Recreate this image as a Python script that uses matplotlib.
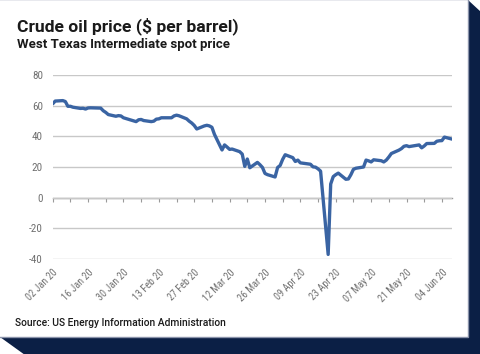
import matplotlib
matplotlib.use("Agg")
import matplotlib.pyplot as plt
from matplotlib import font_manager
from matplotlib.patches import Polygon, Rectangle
import pandas as pd

# WTI spot price, trading days Jan 2 - Jun 8 2020
jan_days = [2, 3, 6, 7, 8, 9, 10, 13, 14, 15, 16, 17, 21, 22, 23, 24, 27, 28, 29, 30, 31]
jan_vals = [61.2, 63.0, 63.3, 62.7, 59.6, 59.6, 59.0, 58.2, 58.3, 57.8, 58.5, 58.6,
            58.4, 56.7, 55.6, 54.2, 53.1, 53.5, 53.3, 52.1, 51.6]
feb_days = [3, 4, 5, 6, 7, 10, 11, 12, 13, 14, 18, 19, 20, 21, 24, 25, 26, 27, 28]
feb_vals = [50.1, 49.6, 50.8, 51.0, 50.3, 49.6, 49.9, 51.2, 51.4, 52.1, 52.1, 53.3,
            53.8, 53.4, 51.4, 49.9, 48.7, 47.1, 44.8]
mar_days = [2, 3, 4, 5, 6, 9, 10, 11, 12, 13, 16, 17, 18, 19, 20, 23, 24, 25, 26, 27, 30, 31]
mar_vals = [46.8, 47.2, 46.8, 45.9, 41.3, 31.1, 34.4, 33.0, 31.5, 31.7, 30.0, 28.4,
            20.4, 25.2, 19.5, 23.0, 21.5, 19.7, 15.8, 15.0, 13.5, 19.7]
apr_days = [1, 2, 3, 6, 7, 8, 9, 13, 14, 15, 16, 17, 20, 21, 22, 23, 24, 27, 28, 29, 30]
apr_vals = [21.0, 25.0, 28.0, 26.1, 23.6, 24.5, 22.7, 21.8, 20.1, 19.9, 18.8, 17.3,
            -37.0, 8.9, 13.7, 15.0, 16.0, 12.0, 12.2, 15.0, 18.5]
may_days = [1, 4, 5, 6, 7, 8, 11, 12, 13, 14, 15, 18, 19, 20, 21, 22, 26, 27, 28, 29]
may_vals = [19.2, 20.0, 24.5, 24.0, 23.3, 24.7, 24.1, 23.3, 24.5, 26.5, 28.8, 31.0,
            32.0, 33.5, 33.9, 33.3, 34.4, 32.5, 33.7, 35.3]
jun_days = [1, 2, 3, 4, 5, 8]
jun_vals = [35.4, 36.8, 37.1, 37.2, 39.5, 38.2]

tick_dates = ["2020-01-02", "2020-01-16", "2020-01-30", "2020-02-13", "2020-02-27",
              "2020-03-12", "2020-03-26", "2020-04-09", "2020-04-23", "2020-05-07",
              "2020-05-21", "2020-06-04"]
tick_labels = ["02 Jan 20", "16 Jan 20", "30 Jan 20", "13 Feb 20", "27 Feb 20",
               "12 Mar 20", "26 Mar 20", "09 Apr 20", "23 Apr 20", "07 May 20",
               "21 May 20", "04 Jun 20"]
y_ticks = [-40, -20, 0, 20, 40, 60, 80]

NAVY = "#0b1f45"
LINE = "#3a64a3"
GREY_TXT = "#707070"

plt.rcParams["axes.unicode_minus"] = False

names = {f.name for f in font_manager.fontManager.ttflist}
NARROW = next((n for n in ["Liberation Sans Narrow", "Roboto Condensed"] if n in names),
              "DejaVu Sans")
HEAD = "Roboto" if "Roboto" in names else "DejaVu Sans"

dates, prices = [], []
for month, days, vals in [(1, jan_days, jan_vals), (2, feb_days, feb_vals),
                          (3, mar_days, mar_vals), (4, apr_days, apr_vals),
                          (5, may_days, may_vals), (6, jun_days, jun_vals)]:
    for d, v in zip(days, vals):
        dates.append(pd.Timestamp(2020, month, d))
        prices.append(v)

W, H = 480, 354
fig = plt.figure(figsize=(W / 100, H / 100), dpi=100, facecolor="white")


def px(x, y):
    return (x / W, 1 - y / H)


# card shadow and card
fig.patches.append(Polygon([px(468, 0), px(481, 12), px(481, 355), px(25, 355), px(0, 337)],
                           closed=True, transform=fig.transFigure, facecolor=NAVY,
                           edgecolor="none", zorder=0))
fig.patches.append(Rectangle(px(-2, 337), 470 / W, 338 / H, transform=fig.transFigure,
                             facecolor="white", edgecolor="#8a93aa", linewidth=1, zorder=1))

ax = fig.add_axes([52.7 / W, 1 - 259 / H, (452 - 52.7) / W, (259 - 75) / H])
ax.set_zorder(3)
ax.set_facecolor("none")
ax.plot(dates, prices, color=LINE, linewidth=2.4, solid_joinstyle="round",
        solid_capstyle="round", zorder=3)

ax.set_xlim(dates[0], dates[-1])
ax.set_ylim(-40, 80)
ax.set_yticks(y_ticks)
ax.grid(axis="y", color="#c8c8c8", linewidth=1.0)
ax.set_axisbelow(True)
for s in ax.spines.values():
    s.set_visible(False)

ax.set_xticks(pd.to_datetime(tick_dates))
ax.set_xticklabels(tick_labels, rotation=45, ha="right", va="top", rotation_mode="anchor")
ax.tick_params(axis="x", length=0, pad=6, labelsize=7.3, labelcolor=GREY_TXT)
ax.tick_params(axis="y", length=0, pad=7, labelsize=8, labelcolor=GREY_TXT)
for lab in ax.get_xticklabels() + ax.get_yticklabels():
    lab.set_family(NARROW)
    lab.set_stretch("condensed")

# horizontal axis crossing at zero, weekly tick marks
zero = ax.secondary_xaxis(0, transform=ax.transData)
zero.set_xticks(pd.date_range(tick_dates[0], dates[-1], freq="7D"))
zero.tick_params(axis="x", direction="out", length=3, width=0.8, color="#9a9a9a",
                 labelbottom=False)
zero.spines["bottom"].set_color("#9a9a9a")
zero.spines["bottom"].set_linewidth(1.0)

fig.text(17 / W, 1 - 31 / H, "Crude oil price ($ per barrel)", family=HEAD,
         weight="bold", fontsize=12.6, color="#1a1a1a", va="baseline")
fig.text(17 / W, 1 - 48 / H, "West Texas Intermediate spot price", family=HEAD,
         weight="bold", fontsize=9.5, color="#1a1a1a", va="baseline")
fig.text(15 / W, 1 - 326 / H, "Source: US Energy Information Administration", family=HEAD,
         weight="medium", fontsize=7.4, color="#1a1a1a", va="baseline")

fig.savefig("out.png", dpi=100)
